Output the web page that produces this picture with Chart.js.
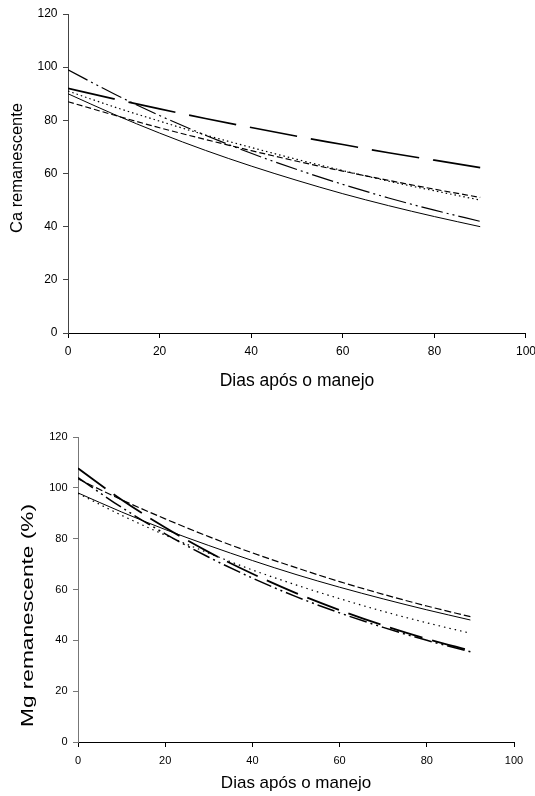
<!DOCTYPE html>
<html>
<head>
<meta charset="utf-8">
<script src="https://cdn.jsdelivr.net/npm/chart.js@4"></script>
<style>
  html, body { margin: 0; padding: 0; background: #fff; overflow: hidden; }
  .box { position: absolute; left: 0; width: 535px; }
</style>
</head>
<body>
<div class="box" style="top:0;height:392px;width:542px"><canvas id="caChart"></canvas></div>
<div class="box" style="top:400px;height:396px"><canvas id="mgChart"></canvas></div>
<script>
const days = [0, 10, 20, 30, 40, 50, 60, 70, 80, 90];
const xTicks = [0, 20, 40, 60, 80, 100];
const yTicks = [0, 20, 40, 60, 80, 100, 120];

// Ca remanescente (top)
const caLongDash = [92, 88.1, 84.3, 80.7, 77.3, 74.0, 70.9, 67.8, 65.0, 62.2];
const caSolid    = [90, 82.3, 75.2, 68.7, 62.8, 57.4, 52.4, 47.9, 43.8, 40.0];
const caDashDot  = [99, 90.0, 81.8, 74.4, 67.6, 61.5, 55.9, 50.8, 46.2, 42.0];
const caDotted   = [91, 85.1, 79.7, 74.5, 69.8, 65.3, 61.1, 57.1, 53.5, 50.0];
const caDash     = [87, 82.0, 77.2, 72.8, 68.6, 64.6, 60.9, 57.4, 54.1, 51.0];

// Mg remanescente (bottom)
const mgLongDash = [107.7, 95.3, 84.4, 74.7, 66.2, 58.6, 51.9, 45.9, 40.6, 36.0];
const mgDashDot  = [104, 92.3, 81.9, 72.7, 64.5, 57.2, 50.8, 45.1, 40.0, 35.5];
const mgDash     = [103.5, 95.3, 87.8, 80.8, 74.4, 68.6, 63.1, 58.1, 53.5, 49.3];
const mgSolid    = [98, 90.5, 83.6, 77.3, 71.4, 65.9, 60.9, 56.3, 52.0, 48.0];
const mgDotted   = [97.8, 89.2, 81.4, 74.3, 67.7, 61.8, 56.4, 51.4, 46.9, 42.8];

const FONT = "'Liberation Sans', Arial, sans-serif";
Chart.defaults.font.family = FONT;
Chart.defaults.color = '#000';

// rotated y title, stretched to the length seen in the picture
const yTitlePlugin = {
  id: 'yTitle',
  afterDraw(chart, args, opts) {
    const ctx = chart.ctx;
    ctx.save();
    ctx.font = opts.size + 'px ' + FONT;
    const w = ctx.measureText(opts.text).width;
    ctx.translate(opts.x, opts.y);
    ctx.rotate(-Math.PI / 2);
    ctx.scale(opts.len / w, 1);
    ctx.fillStyle = '#000';
    ctx.textAlign = 'center';
    ctx.textBaseline = 'middle';
    ctx.fillText(opts.text, 0, 0);
    ctx.restore();
  }
};

function line(vals, width, dash) {
  return {
    data: days.map((d, i) => ({ x: d, y: vals[i] })),
    borderColor: '#000',
    borderWidth: width,
    borderDash: dash,
    pointRadius: 0,
    tension: 0.4,
    cubicInterpolationMode: 'monotone',
    fill: false
  };
}

function makeChart(id, datasets, c) {
  new Chart(document.getElementById(id), {
    type: 'line',
    data: { datasets: datasets },
    plugins: [yTitlePlugin],
    options: {
      responsive: true,
      maintainAspectRatio: false,
      animation: false,
      layout: { padding: c.padding },
      plugins: {
        legend: { display: false },
        tooltip: { enabled: false },
        yTitle: c.yTitle
      },
      scales: {
        x: {
          type: 'linear',
          min: 0,
          max: 100,
          afterBuildTicks: s => { s.ticks = xTicks.map(v => ({ value: v })); },
          afterFit: s => { s.height = c.xHeight; },
          grid: { drawOnChartArea: false, drawTicks: true, tickLength: 5, color: '#000' },
          border: { color: '#000', width: 1 },
          ticks: { font: { size: c.tickSize }, color: '#000', padding: c.xPad, maxRotation: 0 },
          title: {
            display: true,
            text: 'Dias após o manejo',
            font: { size: c.xTitleSize },
            color: '#000',
            padding: { top: 0, bottom: c.xTitlePad }
          }
        },
        y: {
          min: 0,
          max: 120,
          afterBuildTicks: s => { s.ticks = yTicks.map(v => ({ value: v })); },
          afterFit: s => { s.width = c.yWidth; },
          grid: { drawOnChartArea: false, drawTicks: true, tickLength: 5, color: c.yColor },
          border: { color: c.yColor, width: 1 },
          ticks: { font: { size: c.tickSize }, color: '#000', padding: 5.5 }
        }
      }
    }
  });
}

makeChart('caChart', [
  line(caLongDash, 1.7, [48, 14]),
  line(caSolid, 1, []),
  line(caDashDot, 1.2, [22, 4, 2, 4, 2, 4]),
  line(caDotted, 1.2, [1.5, 3]),
  line(caDash, 1.2, [6, 3])
], {
  padding: { top: 14, right: 3, left: 0, bottom: 0 },
  xHeight: 59,
  yWidth: 68,
  xPad: 6,
  tickSize: 12,
  xTitleSize: 17.5,
  xTitlePad: 0,
  yColor: '#444',
  yTitle: { text: 'Ca remanescente', x: 17, y: 168, size: 17, len: 130 }
});

makeChart('mgChart', [
  line(mgLongDash, 1.8, [34, 10]),
  line(mgDashDot, 1.5, [18, 4, 2, 4, 2, 4]),
  line(mgDash, 1.2, [7, 3]),
  line(mgSolid, 1, []),
  line(mgDotted, 1.2, [1.5, 4])
], {
  padding: { top: 37, right: 21, left: 0, bottom: 1.6 },
  xHeight: 52.4,
  yWidth: 78,
  xPad: 7,
  tickSize: 11,
  xTitleSize: 17,
  xTitlePad: 1,
  yColor: '#777',
  yTitle: { text: 'Mg remanescente (%)', x: 28, y: 215.5, size: 17, len: 223 }
});
</script>
</body>
</html>
